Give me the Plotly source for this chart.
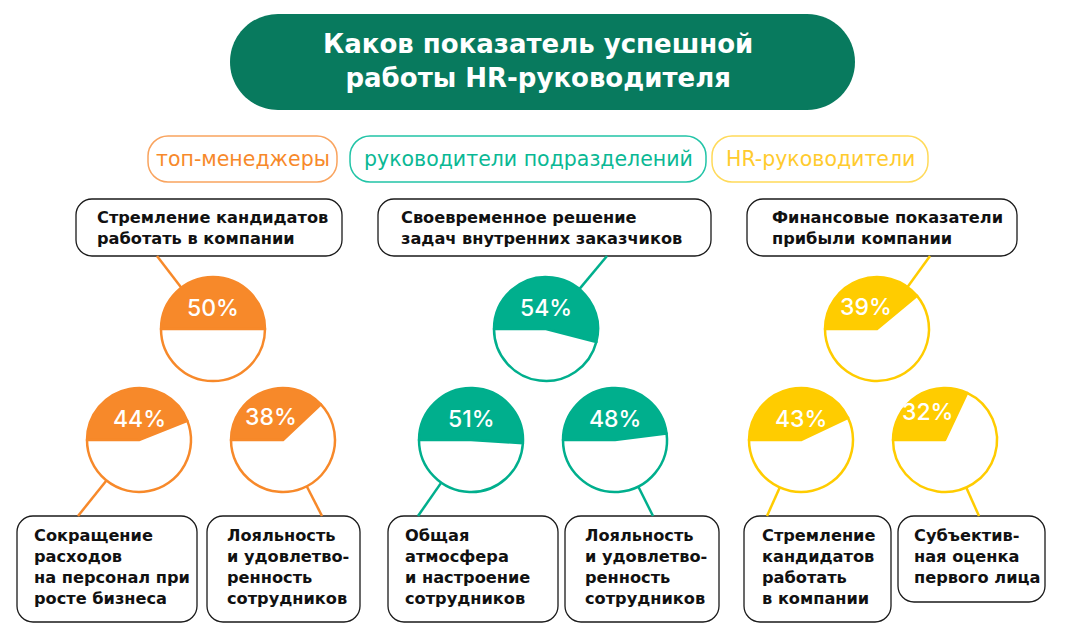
import math
import plotly.graph_objects as go

W, H = 1080, 640

# ---------------- data ----------------
title_text = "Каков показатель успешной<br>работы HR-руководителя"
groups = ["топ-менеджеры", "руководители подразделений", "HR-руководители"]

top_labels = [
    "Стремление кандидатов<br>работать в компании",
    "Своевременное решение<br>задач внутренних заказчиков",
    "Финансовые показатели<br>прибыли компании",
]
top_values = [50, 54, 39]

left_labels = [
    "Сокращение<br>расходов<br>на персонал при<br>росте бизнеса",
    "Общая<br>атмосфера<br>и настроение<br>сотрудников",
    "Стремление<br>кандидатов<br>работать<br>в компании",
]
left_values = [44, 51, 43]

right_labels = [
    "Лояльность<br>и удовлетво-<br>ренность<br>сотрудников",
    "Лояльность<br>и удовлетво-<br>ренность<br>сотрудников",
    "Субъектив-<br>ная оценка<br>первого лица",
]
right_values = [38, 48, 32]

# ---------------- styles / layout ----------------
FONT = "DejaVu Sans"
PCT_FONT = "Inter"
fill_colors = ["#F7892A", "#00AF8D", "#FFCC00"]
pill_line_colors = ["#F9A45F", "#22C4A7", "#FFDA5A"]
pill_text_colors = ["#F7892A", "#0AB894", "#FFCB2E"]
title_bg = "#087A5E"

R = 52
top_centers = [(213, 329), (546, 329), (877, 329)]
left_centers = [(139, 440), (471, 440), (801, 440)]
right_centers = [(283, 440), (615, 440), (945, 440)]

pill_x = [(148, 337), (350, 706), (712, 928)]
pill_y = (136, 182)

top_box_x = [(76, 342), (378, 711), (747, 1017)]
top_box_y = (199, 256)
top_text_x = [95, 399, 770]
top_anchor = [(157, 256), (607, 256), (930, 256)]

left_box_x = [(17, 197), (388, 558), (744, 891)]
left_box_y = [(516, 622), (516, 622), (516, 622)]
left_text_x = [32, 403, 760]
left_anchor = [(78, 516), (418, 516), (767, 516)]
right_box_x = [(207, 360), (565, 719), (898, 1045)]
right_box_y = [(516, 622), (516, 622), (516, 602)]
right_text_x = [225, 583, 912]
right_anchor = [(322, 516), (653, 516), (979, 516)]


def rrect(x0, y0, x1, y1, r):
    k = 0.5523 * r
    return (
        f"M{x0 + r},{y0} L{x1 - r},{y0} "
        f"C{x1 - r + k},{y0} {x1},{y0 + r - k} {x1},{y0 + r} "
        f"L{x1},{y1 - r} "
        f"C{x1},{y1 - r + k} {x1 - r + k},{y1} {x1 - r},{y1} "
        f"L{x0 + r},{y1} "
        f"C{x0 + r - k},{y1} {x0},{y1 - r + k} {x0},{y1 - r} "
        f"L{x0},{y0 + r} "
        f"C{x0},{y0 + r - k} {x0 + r - k},{y0} {x0 + r},{y0} Z"
    )


fig = go.Figure()
shapes = []
annotations = []


def add_pie(center, value, color):
    cx, cy = center
    fig.add_trace(
        go.Pie(
            values=[value, 100 - value],
            marker=dict(colors=[color, "#FFFFFF"], line=dict(color=color, width=2.5)),
            sort=False,
            direction="clockwise",
            rotation=270,
            textinfo="none",
            hoverinfo="skip",
            showlegend=False,
            domain=dict(
                x=[(cx - R) / W, (cx + R) / W],
                y=[1 - (cy + R) / H, 1 - (cy - R) / H],
            ),
        )
    )
    # keep the label inside the filled sector
    ty = cy - 21 - max(0, 40 - value) * 0.9
    tx = cx
    theta = math.radians(180 - 3.6 * value)
    if 0 < theta < math.pi / 2:
        bottom = ty + 8.5
        bx = cx + (cy - bottom) / math.tan(theta)
        tx = min(cx, bx - 27)
    annotations.append(
        dict(
            x=tx, y=ty, xref="x", yref="y", text=f"{value}%",
            showarrow=False, xanchor="center", yanchor="middle",
            font=dict(family=PCT_FONT, size=23, color="#FFFFFF", weight=500),
        )
    )


def connector(anchor, center, color):
    ax, ay = anchor
    cx, cy = center
    d = math.hypot(cx - ax, cy - ay)
    ex = cx + (ax - cx) * R / d
    ey = cy + (ay - cy) * R / d
    shapes.append(
        dict(type="line", x0=ax, y0=ay, x1=ex, y1=ey, xref="x", yref="y",
             line=dict(color=color, width=2.5), layer="below")
    )


# title pill
shapes.append(dict(type="path", path=rrect(230, 14, 855, 110, 48), xref="x", yref="y",
                   fillcolor=title_bg, line=dict(width=0), layer="below"))
annotations.append(dict(x=538, y=61, xref="x", yref="y", text=title_text, showarrow=False,
                        xanchor="center", yanchor="middle", align="center",
                        font=dict(family=FONT, size=26, color="#FFFFFF", weight="bold")))

# group pills
for i, g in enumerate(groups):
    x0, x1 = pill_x[i]
    shapes.append(dict(type="path", path=rrect(x0, pill_y[0], x1, pill_y[1], 20), xref="x", yref="y",
                       fillcolor="rgba(0,0,0,0)", line=dict(color=pill_line_colors[i], width=1.5),
                       layer="below"))
    annotations.append(dict(x=(x0 + x1) / 2, y=(pill_y[0] + pill_y[1]) / 2, xref="x", yref="y",
                            text=g, showarrow=False, xanchor="center", yanchor="middle",
                            font=dict(family=FONT, size=20.5, color=pill_text_colors[i])))

box_line = dict(color="#1A1A1A", width=1.3)
text_font = dict(family=FONT, size=16.2, color="#111111", weight="bold")

for i in range(3):
    col = fill_colors[i]
    # top box
    x0, x1 = top_box_x[i]
    shapes.append(dict(type="path", path=rrect(x0, top_box_y[0], x1, top_box_y[1], 16), xref="x", yref="y",
                       fillcolor="#FFFFFF", line=box_line, layer="below"))
    annotations.append(dict(x=top_text_x[i], y=(top_box_y[0] + top_box_y[1]) / 2, xref="x", yref="y",
                            text=top_labels[i], showarrow=False, xanchor="left", yanchor="middle",
                            align="left", font=text_font))
    # bottom boxes
    for bx, by, tx, lab in ((left_box_x[i], left_box_y[i], left_text_x[i], left_labels[i]),
                            (right_box_x[i], right_box_y[i], right_text_x[i], right_labels[i])):
        shapes.append(dict(type="path", path=rrect(bx[0], by[0], bx[1], by[1], 16), xref="x", yref="y",
                           fillcolor="#FFFFFF", line=box_line, layer="below"))
        annotations.append(dict(x=tx, y=by[0] + 8, xref="x", yref="y", text=lab, showarrow=False,
                                xanchor="left", yanchor="top", align="left", font=text_font))
    connector(top_anchor[i], top_centers[i], col)
    connector(left_anchor[i], left_centers[i], col)
    connector(right_anchor[i], right_centers[i], col)
    add_pie(top_centers[i], top_values[i], col)
    add_pie(left_centers[i], left_values[i], col)
    add_pie(right_centers[i], right_values[i], col)

fig.update_layout(
    width=W, height=H,
    margin=dict(l=0, r=0, t=0, b=0),
    paper_bgcolor="#FFFFFF", plot_bgcolor="#FFFFFF",
    xaxis=dict(range=[0, W], visible=False, fixedrange=True),
    yaxis=dict(range=[H, 0], visible=False, fixedrange=True),
    shapes=shapes, annotations=annotations,
    showlegend=False,
)

fig.write_html("out.html", config={"displayModeBar": False})
